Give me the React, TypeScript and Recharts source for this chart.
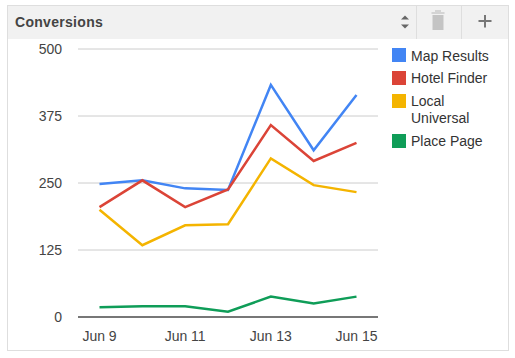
import React from "react";
import { LineChart, Line, XAxis, YAxis, CartesianGrid, Legend } from "recharts";

const dates = ["Jun 9", "Jun 10", "Jun 11", "Jun 12", "Jun 13", "Jun 14", "Jun 15"];
const mapResults = [248, 255, 240, 237, 433, 311, 414];
const hotelFinder = [205, 255, 205, 238, 358, 291, 325];
const localUniversal = [200, 134, 171, 173, 296, 246, 233];
const placePage = [18, 20, 20, 10, 38, 25, 38];
const yTicks = [0, 125, 250, 375, 500];
const title = "Conversions";

const seriesList = [
  { name: "Map Results", values: mapResults, color: "#4285f4" },
  { name: "Hotel Finder", values: hotelFinder, color: "#db4437" },
  { name: "Local Universal", values: localUniversal, color: "#f4b400" },
  { name: "Place Page", values: placePage, color: "#0f9d58" },
];

const rows = dates.map((date, i) => {
  const row: Record<string, string | number> = { date };
  seriesList.forEach((s) => { row[s.name] = s.values[i]; });
  return row;
});

const font = "'Liberation Sans', Arial, sans-serif";

function LegendBox({ payload }: any) {
  return (
    <div style={{ fontFamily: font, fontSize: 14, lineHeight: "17px", color: "#333" }}>
      {(payload || []).map((p: any, i: number) => (
        <div key={p.value} style={{ display: "flex", alignItems: "flex-start", marginBottom: 6 }}>
          <span style={{ width: 14, height: 14, background: p.color, flex: "none", marginRight: 5, marginTop: 1 }} />
          <span style={{ width: 90, position: "relative", top: i === 0 ? 1 : 0 }}>{p.value}</span>
        </div>
      ))}
    </div>
  );
}

export default function App() {
  return (
    <div style={{ position: "absolute", left: 0, top: 0, width: 515, height: 358, background: "#fff", overflow: "hidden" }}>
      <div style={{ position: "absolute", left: 7, top: 5, width: 500, height: 344, border: "1px solid #dedede", boxSizing: "content-box" }} />
      <div style={{ position: "absolute", left: 8, top: 6, width: 500, height: 33, background: "#f1f1f1" }}>
        <span style={{ position: "absolute", left: 7, top: 8, fontFamily: font, fontWeight: 700, fontSize: 14, letterSpacing: 0.3, color: "#444" }}>{title}</span>
        <div style={{ position: "absolute", left: 408, top: 0, width: 1, height: 33, background: "#dedede" }} />
        <div style={{ position: "absolute", left: 453, top: 0, width: 1, height: 33, background: "#dedede" }} />
        <svg style={{ position: "absolute", left: 0, top: 0 }} width={500} height={33}>
          <path d="M393 13.5 L397 9.5 L401 13.5 Z M393 18.5 L401 18.5 L397 22.5 Z" fill="#666" />
          <path d="M427 4 H433 V6 H436.5 V8 H423.5 V6 H427 Z" fill="#d4d4d4" />
          <path d="M424.5 9 H435.5 V24 H424.5 Z" fill="#c4c4c4" />
          <path d="M476 9 H478 V14 H483.5 V16 H478 V21.5 H476 V16 H470.5 V14 H476 Z" fill="#777" />
        </svg>
      </div>
      <div style={{ position: "absolute", left: 0, top: 0 }}>
        <LineChart
          width={515}
          height={358}
          data={rows}
          margin={{ top: 49, right: 22, bottom: 11, left: 0 }}
        >
          <CartesianGrid horizontal vertical={false} stroke="#cccccc" strokeWidth={1} />
          <XAxis
            dataKey="date"
            interval={1}
            padding={{ left: 21.5, right: 21.5 }}
            axisLine={{ stroke: "#777777", strokeWidth: 2 }}
            tickLine={false}
            tick={{ fontFamily: font, fontSize: 14, fill: "#444" }}
            tickMargin={8}
          />
          <YAxis
            width={78}
            domain={[0, 500]}
            ticks={yTicks}
            axisLine={false}
            tickLine={false}
            tick={{ fontFamily: font, fontSize: 14, fill: "#444" }}
            tickMargin={10}
          />
          <Legend
            layout="vertical"
            align="right"
            verticalAlign="top"
            itemSorter={null as any}
            wrapperStyle={{ left: 392, top: 47, width: 115, right: "auto" }}
            content={<LegendBox />}
          />
          {seriesList.map((s) => (
            <Line
              key={s.name}
              dataKey={s.name}
              stroke={s.color}
              strokeWidth={2.5}
              dot={false}
              activeDot={false}
              type="linear"
              isAnimationActive={false}
            />
          ))}
        </LineChart>
      </div>
    </div>
  );
}
